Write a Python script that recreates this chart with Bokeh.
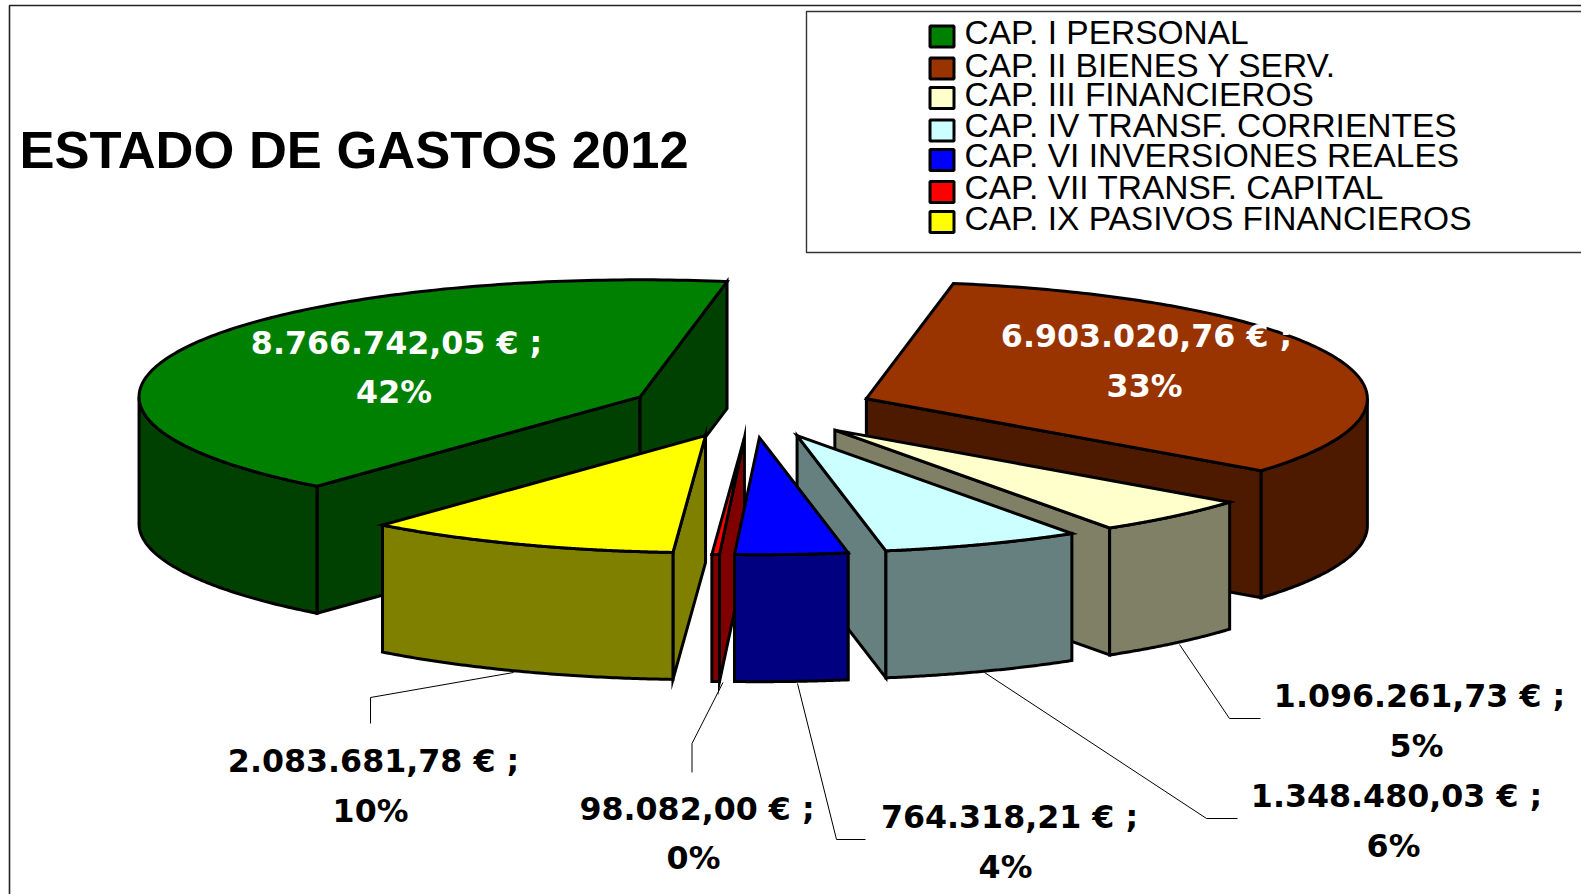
import numpy as np
from bokeh.core.properties import value
from bokeh.embed import file_html
from bokeh.models import Range1d
from bokeh.plotting import figure
from bokeh.resources import INLINE

# ---- data ----
categories = ["CAP. I PERSONAL", "CAP. II BIENES Y SERV.", "CAP. III FINANCIEROS",
              "CAP. IV TRANSF. CORRIENTES", "CAP. VI INVERSIONES REALES",
              "CAP. VII TRANSF. CAPITAL", "CAP. IX PASIVOS FINANCIEROS"]
amounts = [8766742.05, 6903020.76, 1096261.73, 1348480.03, 764318.21, 98082.00, 2083681.78]
amount_texts = ["8.766.742,05 € ;", "6.903.020,76 € ;", "1.096.261,73 € ;", "1.348.480,03 € ;",
                "764.318,21 € ;", "98.082,00 € ;", "2.083.681,78 € ;"]
percent_texts = ["42%", "33%", "5%", "6%", "4%", "0%", "10%"]
top_colors = ["#008000", "#993300", "#FFFFCC", "#CCFFFF", "#0000FF", "#FF0000", "#FFFF00"]
side_colors = ["#004000", "#4D1A00", "#808066", "#668080", "#000080", "#800000", "#808000"]
title_text = "ESTADO DE GASTOS 2012"

# ---- layout of the projected pie (pixels of the page) ----
W, H = 1581, 894
CX, CY = 751.0, 408.5
RX, RY = 501.0, 117.0
DEPTH = 127.0
EXPLODE = 0.2456
FIRST_SLICE_START = 10.0      # the brown slice starts here, clockwise from top
PIE_ORDER = [1, 2, 3, 4, 5, 6, 0]   # order of slices round the pie
PAINT_ORDER = [0, 1, 2, 3, 5, 4, 6]  # back to front
EDGE = 3.0
THIN_SLICE_SNAP = -0.8        # the reference's coarse rim draws the thin slice narrower (degrees)

p = figure(width=W, height=H, x_range=Range1d(0, W), y_range=Range1d(H, 0),
           toolbar_location=None, output_backend="svg", min_border=0,
           margin=(0, 0, 0, 0), outline_line_color=None,
           background_fill_color="white", border_fill_color="white")
p.axis.visible = False
p.grid.visible = False


def face(xs, ys, color):
    p.patch(list(xs), list(ys), fill_color=color, line_color="black",
            line_width=EDGE, line_join="miter")


total = sum(amounts)
start = {}
end = {}
a = FIRST_SLICE_START
for i in PIE_ORDER:
    start[i] = a
    a += amounts[i] / total * 360.0
    end[i] = a
end[5] += THIN_SLICE_SNAP
start[6] += THIN_SLICE_SNAP


def rim(t, ox, oy):
    r = np.radians(t)
    return ox + RX * np.sin(r), oy - RY * np.cos(r)


for i in PAINT_ORDER:
    t1, t2 = start[i], end[i]
    mid = np.radians((t1 + t2) / 2)
    ox = CX + EXPLODE * RX * np.sin(mid)
    oy = CY - EXPLODE * RY * np.cos(mid)
    # cut faces that look towards the viewer
    for t, visible in ((t1, np.sin(np.radians(t1)) < 0), (t2, np.sin(np.radians(t2)) > 0)):
        if visible:
            ex, ey = rim(t, ox, oy)
            face([ox, ex, ex, ox], [oy, ey, ey + DEPTH, oy + DEPTH], side_colors[i])
    # outer wall: only the front half of the ellipse shows
    w1, w2 = max(t1, 90.0), min(t2, 270.0)
    if w2 > w1:
        tt = np.linspace(w1, w2, 80)
        ax, ay = rim(tt, ox, oy)
        face(np.r_[ax, ax[::-1]], np.r_[ay, ay[::-1] + DEPTH], side_colors[i])
    # top
    tt = np.linspace(t1, t2, 160)
    ax, ay = rim(tt, ox, oy)
    face(np.r_[ox, ax], np.r_[oy, ay], top_colors[i])

# frame of the chart
p.line([9, 9, W], [H, 5, 5], line_color="#222222", line_width=1.6)

# title
p.text([19], [149], text=[title_text], text_font=value("Liberation Sans"), text_font_style="bold",
       text_font_size="52.5px", text_color="black", text_baseline="alphabetic", text_align="left")

# legend
p.quad(left=[806], right=[W + 10], top=[11], bottom=[252], fill_color="white",
       line_color="#333333", line_width=1.4)
legend_rows = [36, 68, 97.5, 130, 159.5, 191.5, 221.5]
legend_base = [32, 65, 94, 125, 155, 187, 218]
for c, col, yc, yb in zip(categories, top_colors, legend_rows, legend_base):
    p.rect([941.5], [yc], width=24, height=21, fill_color=col, line_color="black", line_width=3)
    p.text([964], [yb], text=[c], text_font=value("Liberation Sans"), text_font_size="33.5px",
           text_color="black", text_baseline="alphabetic", text_align="left")

# leader lines
leaders = [
    ([513, 370, 370], [672, 697, 723]),
    ([722.5, 691.5, 691.5], [682, 743, 772]),
    ([797, 836, 865], [683, 839, 839]),
    ([984, 1206, 1237], [672, 818, 818]),
    ([1179, 1229, 1260], [644, 718, 718]),
]
for lx, ly in leaders:
    p.line(lx, ly, line_color="black", line_width=1)

# data labels: centre x, baseline of amount, centre x and baseline of percent, colour
label_layout = {
    0: (396, 342, 393.5, 391, "white"),
    1: (1146, 335, 1144, 385, "white"),
    2: (1419, 695, 1416, 745, "black"),
    3: (1396, 795, 1393, 845, "black"),
    4: (1009, 816, 1005, 866, "black"),
    5: (696.5, 808, 693, 857, "black"),
    6: (373, 760, 370, 810, "black"),
}
for i, (x1, y1, x2, y2, col) in label_layout.items():
    p.text([x1, x2], [y1, y2], text=[amount_texts[i], percent_texts[i]],
           text_font=value("DejaVu Sans"), text_font_style="bold", text_font_size="31.7px",
           text_color=col, text_baseline="alphabetic", text_align="center")

open("out.html", "w").write(file_html(p, INLINE))
